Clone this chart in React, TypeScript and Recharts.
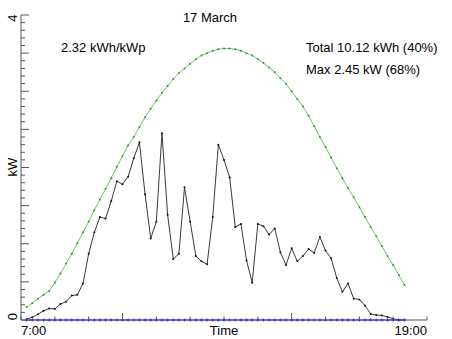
import React from 'react';
import { LineChart, Line, XAxis, YAxis } from 'recharts';

// 10-minute samples for 17 March
const times = [
  '7:10', '7:20', '7:30', '7:40', '7:50', '8:00',
  '8:10', '8:20', '8:30', '8:40', '8:50', '9:00',
  '9:10', '9:20', '9:30', '9:40', '9:50', '10:00',
  '10:10', '10:20', '10:30', '10:40', '10:50', '11:00',
  '11:10', '11:20', '11:30', '11:40', '11:50', '12:00',
  '12:10', '12:20', '12:30', '12:40', '12:50', '13:00',
  '13:10', '13:20', '13:30', '13:40', '13:50', '14:00',
  '14:10', '14:20', '14:30', '14:40', '14:50', '15:00',
  '15:10', '15:20', '15:30', '15:40', '15:50', '16:00',
  '16:10', '16:20', '16:30', '16:40', '16:50', '17:00',
  '17:10', '17:20', '17:30', '17:40', '17:50', '18:00',
  '18:10', '18:20',
];

// measured output (kW)
const measured = [
  0.01, 0.035, 0.075, 0.12, 0.15, 0.145,
  0.21, 0.24, 0.32, 0.33, 0.48, 0.87,
  1.15, 1.35, 1.33, 1.56, 1.82, 1.78,
  1.88, 2.12, 2.33, 1.65, 1.07, 1.29,
  2.45, 1.38, 0.8, 0.87, 1.74, 1.29,
  0.84, 0.77, 0.73, 1.35, 2.3, 2.1,
  1.87, 1.22, 1.26, 0.78, 0.49, 1.26,
  1.23, 1.12, 1.2, 0.89, 0.72, 0.94,
  0.77, 0.84, 0.93, 0.88, 1.09, 0.91,
  0.81, 0.55, 0.37, 0.48, 0.28, 0.27,
  0.19, 0.08, 0.065, 0.06, 0.04, 0.015,
  0.0, 0.0,
];

// clear sky expectation (kW)
const clearSky = [
  0.17, 0.22, 0.28, 0.33, 0.38, 0.49,
  0.61, 0.74, 0.87, 1.01, 1.15, 1.29,
  1.44, 1.58, 1.72, 1.86, 2.01, 2.15,
  2.29, 2.4, 2.53, 2.66, 2.77, 2.88,
  2.98, 3.07, 3.16, 3.24, 3.3, 3.36,
  3.42, 3.47, 3.5, 3.53, 3.55, 3.56,
  3.56, 3.55, 3.53, 3.5, 3.47, 3.42,
  3.37, 3.31, 3.25, 3.17, 3.1, 3.0,
  2.9, 2.8, 2.68, 2.54, 2.4, 2.27,
  2.13, 1.99, 1.86, 1.73, 1.61, 1.48,
  1.35, 1.22, 1.1, 0.97, 0.84, 0.72,
  0.59, 0.46,
];

// consumption / export line, flat at zero
const baseline = [
  0, 0, 0, 0, 0, 0, 0, 0, 0, 0, 0, 0,
  0, 0, 0, 0, 0, 0, 0, 0, 0, 0, 0, 0,
  0, 0, 0, 0, 0, 0, 0, 0, 0, 0, 0, 0,
  0, 0, 0, 0, 0, 0, 0, 0, 0, 0, 0, 0,
  0, 0, 0, 0, 0, 0, 0, 0, 0, 0, 0, 0,
  0, 0, 0, 0, 0, 0, 0, 0,
];

const xTickHours = [7, 8, 9, 10, 11, 12, 13, 14, 15, 16, 17, 18, 19];
const xMajorHours = [10, 15];
const xTickLabels: Record<number, string> = { 7: '7:00', 13: 'Time', 19: '19:00' };
const yLabels: Record<number, string> = { 0: '0', 4: '4' };

const toHours = (s: string) => {
  const [h, m] = s.split(':').map(Number);
  return h + m / 60;
};

const data = times.map((t, i) => ({
  t: toHours(t),
  measured: measured[i],
  clearSky: clearSky[i],
  baseline: baseline[i],
}));

const yTicks = Array.from({ length: 41 }, (_, i) => i / 10);

const FONT = '"Liberation Sans", Arial, Helvetica, sans-serif';
const AXIS = '#555';

const YTick = (props: any) => {
  const { x, y, payload } = props;
  const v = payload.value;
  const major = Math.abs(v * 2 - Math.round(v * 2)) < 1e-6;
  const len = major ? 8 : 4;
  const label = yLabels[Math.round(v * 10) / 10];
  const cy = v === 0 ? y - 3.5 : y + 3;
  return (
    <g>
      <line x1={x} y1={y} x2={x + len} y2={y} stroke={AXIS} strokeWidth={1} />
      {label !== undefined && (
        <text
          x={17}
          y={cy}
          transform={`rotate(-90 17 ${cy})`}
          textAnchor="middle"
          fontSize={13}
          fontFamily={FONT}
          fill="#000"
        >
          {label}
        </text>
      )}
    </g>
  );
};

const XTick = (props: any) => {
  const { x, y, payload } = props;
  const v = payload.value;
  const len = xMajorHours.includes(v) ? 7 : 3.5;
  const label = xTickLabels[v];
  const anchor = v === 7 ? 'start' : v === 19 ? 'end' : 'middle';
  return (
    <g>
      <line x1={x} y1={y} x2={x} y2={y - len} stroke={AXIS} strokeWidth={1} />
      {label && (
        <text x={x} y={y + 15} textAnchor={anchor} fontSize={13} fontFamily={FONT} fill="#000">
          {label}
        </text>
      )}
    </g>
  );
};

const PlusDot = (props: any) => {
  const { cx, cy, index } = props;
  if (cx == null || cy == null) return <g key={index} />;
  return (
    <path
      key={index}
      d={`M${cx - 1.5},${cy}h3M${cx},${cy - 1.5}v3`}
      stroke="#3030ff"
      strokeWidth={1}
    />
  );
};

export default function App() {
  return (
    <div style={{ position: 'absolute', left: 0, top: 0, width: 452, height: 339, background: '#fff' }}>
      <LineChart
        width={452}
        height={339}
        data={data}
        margin={{ top: 15, right: 25, bottom: 0, left: 0 }}
      >
        <XAxis
          dataKey="t"
          type="number"
          domain={[7, 19]}
          ticks={xTickHours}
          interval={0}
          height={19}
          tickSize={0}
          tickMargin={0}
          tickLine={false}
          axisLine={{ stroke: AXIS }}
          tick={<XTick />}
        />
        <YAxis
          type="number"
          domain={[0, 4]}
          ticks={yTicks}
          interval={0}
          width={21}
          tickSize={0}
          tickMargin={0}
          tickLine={false}
          axisLine={{ stroke: AXIS }}
          tick={<YTick />}
        />
        <Line
          dataKey="clearSky"
          stroke="#6cc46a"
          strokeWidth={1}
          dot={{ r: 1, fill: '#3b8f3b', stroke: 'none' }}
          isAnimationActive={false}
        />
        <Line
          dataKey="measured"
          stroke="#3a3a3a"
          strokeWidth={1}
          dot={{ r: 1, fill: '#111', stroke: 'none' }}
          isAnimationActive={false}
        />
        <Line
          dataKey="baseline"
          stroke="#3030ff"
          strokeWidth={1}
          dot={<PlusDot />}
          isAnimationActive={false}
        />
      </LineChart>
      <svg
        width={452}
        height={339}
        style={{ position: 'absolute', left: 0, top: 0, pointerEvents: 'none' }}
        fontFamily={FONT}
        fontSize={13}
      >
        <text x={210} y={22} textAnchor="middle">17 March</text>
        <text x={61} y={52}>2.32 kWh/kWp</text>
        <text x={306} y={52}>Total 10.12 kWh (40%)</text>
        <text x={306} y={74}>Max 2.45 kW (68%)</text>
        <text x={17} y={167} transform="rotate(-90 17 167)" textAnchor="middle">kW</text>
      </svg>
    </div>
  );
}
